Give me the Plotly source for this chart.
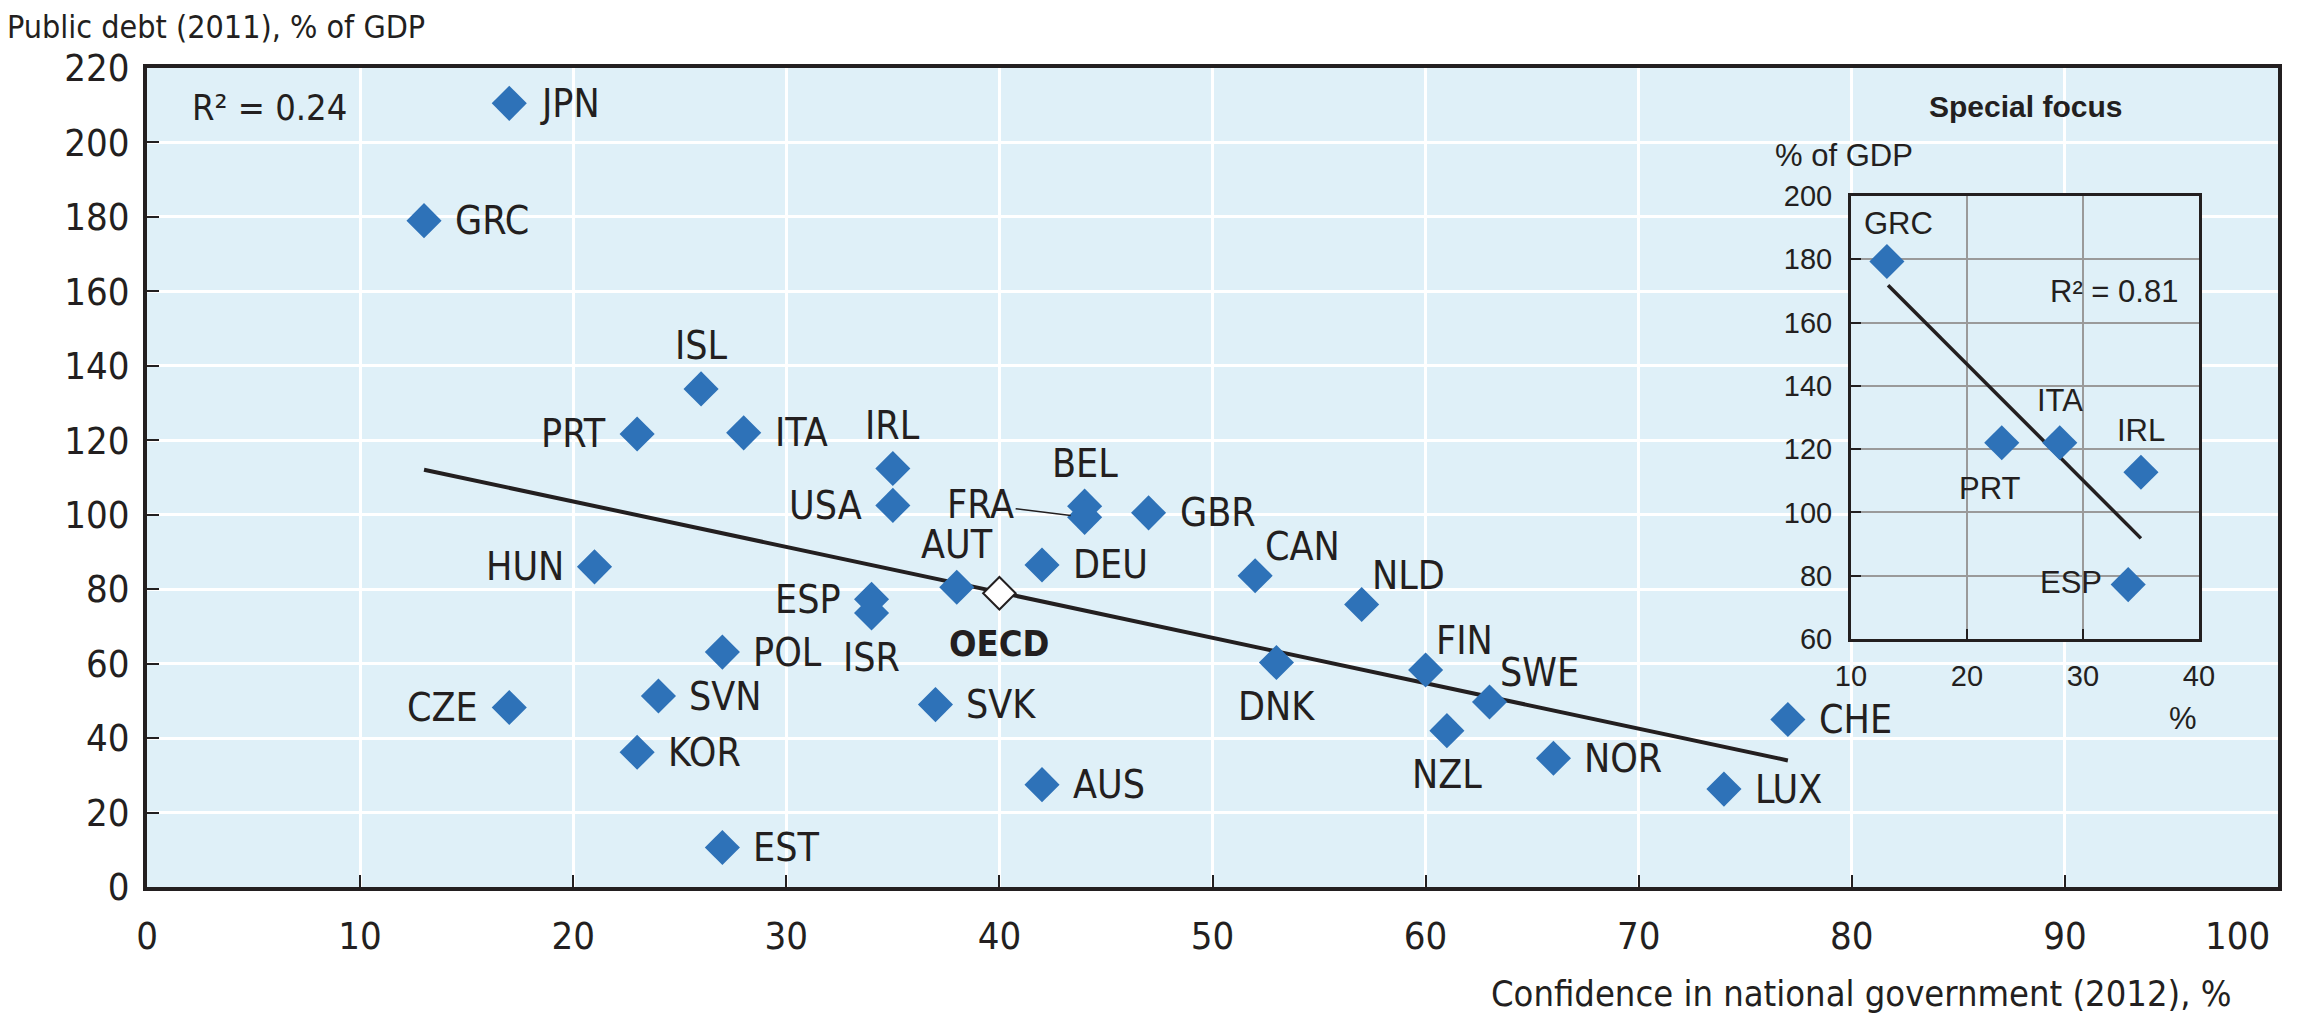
import plotly.graph_objects as go

# ---------------- data ----------------
countries = ["JPN", "GRC", "ISL", "PRT", "ITA", "IRL", "USA", "BEL", "FRA", "GBR",
             "HUN", "AUT", "ESP", "ISR", "DEU", "CAN", "NLD", "DNK", "FIN", "SWE",
             "NZL", "NOR", "LUX", "CHE", "POL", "SVN", "CZE", "KOR", "EST", "SVK", "AUS"]
confidence = [17, 13, 26, 23, 28, 35, 35, 44, 44, 47,
              21, 38, 34, 34, 42, 52, 57, 53, 60, 63,
              61, 66, 74, 77, 27, 24, 17, 23, 27, 37, 42]
debt = [210.5, 179, 133.8, 121.7, 122, 112.4, 102.5, 102.3, 99.3, 100.5,
        86, 80.5, 77.3, 73.6, 86.5, 83.6, 75.9, 60.3, 58.3, 49.7,
        42, 34.6, 26.3, 45, 63.1, 51.3, 48.2, 36.2, 10.6, 49, 27.5]
label_pos = ["r", "r", "t", "l", "r", "t", "l", "t", "fra", "r",
             "l", "t", "l", "b", "r", "tr", "tr", "b", "tr", "tr",
             "b", "r", "r", "r", "r", "r", "l", "r", "r", "r", "r"]

oecd_name = ["OECD"]
oecd_conf = [40]
oecd_debt = [78.9]

trend_x = [13, 77]
trend_y = [112.1, 34.0]
r2_main = "R² = 0.24"

focus_countries = ["GRC", "PRT", "ITA", "IRL", "ESP"]
focus_conf = [13.1, 23, 28, 35, 33.9]
focus_debt = [179.3, 122, 122, 112.7, 77.2]
focus_label_pos = ["grc", "prt", "t", "t", "l"]
focus_trend_x = [13.2, 35]
focus_trend_y = [171.8, 91.8]
r2_focus = "R² = 0.81"

x_ticks = list(range(0, 101, 10))
x_tick_text = [str(v) for v in x_ticks]
y_ticks = list(range(0, 221, 20))
fx_ticks = [10, 20, 30, 40]
fy_ticks = list(range(60, 201, 20))

# ---------------- styles ----------------
BLUE = "#2E72B8"
DARK = "#231F20"
BG = "#DFF0F8"
NARROW = "Liberation Sans Narrow, Arial Narrow, DejaVu Sans Condensed, Liberation Sans, sans-serif"
REG = "Liberation Sans, Arial, Helvetica, sans-serif"

# the last x tick label is drawn left of its tick (inside the frame) as a separate text
last_x_label = x_tick_text[-1]
axis_x_text = x_tick_text[:-1] + [""]

fig = go.Figure()

fig.add_trace(go.Scatter(x=trend_x, y=trend_y, mode="lines",
                         line=dict(color=DARK, width=4), hoverinfo="skip",
                         showlegend=False, xaxis="x", yaxis="y"))
fig.add_trace(go.Scatter(x=confidence, y=debt, mode="markers",
                         marker=dict(symbol="diamond", size=27, color=BLUE,
                                     line=dict(width=0)),
                         text=countries, showlegend=False, xaxis="x", yaxis="y"))
fig.add_trace(go.Scatter(x=oecd_conf, y=oecd_debt, mode="markers",
                         marker=dict(symbol="diamond", size=25, color="white",
                                     line=dict(width=2, color=DARK)),
                         text=oecd_name, showlegend=False, xaxis="x", yaxis="y"))

fig.add_trace(go.Scatter(x=focus_trend_x, y=focus_trend_y, mode="lines",
                         line=dict(color=DARK, width=3.5), hoverinfo="skip",
                         showlegend=False, xaxis="x2", yaxis="y2"))
fig.add_trace(go.Scatter(x=focus_conf, y=focus_debt, mode="markers",
                         marker=dict(symbol="diamond", size=27, color=BLUE,
                                     line=dict(width=0)),
                         text=focus_countries, showlegend=False, xaxis="x2", yaxis="y2"))

annotations = []
lab_font = dict(family=NARROW, size=39, color=DARK)
title_font = dict(family=NARROW, size=32, color=DARK)
xt_font = dict(family=NARROW, size=36, color=DARK)
tick_font = dict(family=NARROW, size=38, color=DARK)
pos_map = {
    "r": dict(xanchor="left", yanchor="middle", xshift=29, yshift=0),
    "l": dict(xanchor="right", yanchor="middle", xshift=-29, yshift=0),
    "t": dict(xanchor="center", yanchor="middle", xshift=0, yshift=43),
    "b": dict(xanchor="center", yanchor="middle", xshift=0, yshift=-44),
    "tr": dict(xanchor="left", yanchor="middle", xshift=8, yshift=29),
}
for name, xv, yv, p in zip(countries, confidence, debt, label_pos):
    if p == "fra":
        annotations.append(dict(x=xv, y=yv, xref="x", yref="y", text=name,
                                showarrow=True, arrowhead=0, arrowwidth=1.5,
                                arrowcolor=DARK, ax=-104, ay=-13, standoff=14,
                                font=lab_font))
    else:
        annotations.append(dict(x=xv, y=yv, xref="x", yref="y", text=name,
                                showarrow=False, font=lab_font, **pos_map[p]))
annotations.append(dict(x=oecd_conf[0], y=oecd_debt[0], xref="x", yref="y",
                        text="<b>" + oecd_name[0] + "</b>", showarrow=False,
                        xanchor="center", yanchor="middle", yshift=-50,
                        font=dict(family=NARROW, size=36, color=DARK)))

fpos_map = {
    "grc": dict(xanchor="center", yanchor="middle", xshift=12, yshift=38),
    "prt": dict(xanchor="center", yanchor="middle", xshift=-12, yshift=-46),
    "t": dict(xanchor="center", yanchor="middle", xshift=0, yshift=42),
    "l": dict(xanchor="right", yanchor="middle", xshift=-24, yshift=2),
}
in_font = dict(family=REG, size=31, color=DARK)
for name, xv, yv, p in zip(focus_countries, focus_conf, focus_debt, focus_label_pos):
    annotations.append(dict(x=xv, y=yv, xref="x2", yref="y2", text=name,
                            showarrow=False, font=in_font, **fpos_map[p]))

annotations += [
    dict(x=-0.0666, y=1.050, xref="paper", yref="paper", text="Public debt (2011), % of GDP",
         showarrow=False, xanchor="left", yanchor="middle", font=title_font),
    dict(x=0.9789, y=-0.1306, xref="paper", yref="paper",
         text="Confidence in national government (2012), %",
         showarrow=False, xanchor="right", yanchor="middle", font=xt_font),
    dict(x=0.997, y=-0.0598, xref="paper", yref="paper", text=last_x_label,
         showarrow=False, xanchor="right", yanchor="middle", font=tick_font),
    dict(x=2.0, y=209.5, xref="x", yref="y", text=r2_main, showarrow=False,
         xanchor="left", yanchor="middle", font=xt_font),
    dict(x=0.8813, y=0.9524, xref="paper", yref="paper", text="<b>Special focus</b>",
         showarrow=False, xanchor="center", yanchor="middle",
         font=dict(family=REG, size=30, color=DARK)),
    dict(x=0.763, y=0.8926, xref="paper", yref="paper", text="% of GDP",
         showarrow=False, xanchor="left", yanchor="middle", font=in_font),
    dict(x=27, y=169.7, xref="x2", yref="y2", text=r2_focus, showarrow=False,
         xanchor="left", yanchor="middle", font=in_font),
    dict(x=0.9554, y=0.2063, xref="paper", yref="paper", text="%",
         showarrow=False, xanchor="center", yanchor="middle", font=in_font),
]

shapes = [dict(type="rect", xref="x2 domain", yref="y2 domain", x0=0, x1=1, y0=0, y1=1,
               fillcolor="white", line=dict(width=0), layer="below")]

main_axis = dict(showgrid=True, gridcolor="white", gridwidth=2.5, zeroline=False,
                 ticks="inside", ticklen=12, tickwidth=2, tickcolor=DARK,
                 showline=True, linecolor=DARK, linewidth=4, mirror=True,
                 tickfont=tick_font)
inset_axis = dict(showgrid=True, gridcolor="#9A9A9A", gridwidth=1.5, zeroline=False,
                  ticks="inside", ticklen=10, tickwidth=2, tickcolor=DARK,
                  showline=True, linecolor=DARK, linewidth=3, mirror=True,
                  tickfont=dict(family=REG, size=29, color=DARK))

fig.update_layout(
    width=2303, height=1018,
    margin=dict(l=147, r=25, t=68, b=131),
    paper_bgcolor="white", plot_bgcolor=BG,
    showlegend=False,
    xaxis=dict(domain=[0, 1], range=[0, 100], tickvals=x_ticks, ticktext=axis_x_text,
               anchor="y", ticklabelstandoff=12, automargin=False, **main_axis),
    yaxis=dict(domain=[0, 1], range=[0, 220], tickvals=y_ticks, anchor="x",
               ticklabelstandoff=6, automargin=False, **main_axis),
    xaxis2=dict(domain=[0.7996, 0.9629], range=[10, 40], tickvals=fx_ticks, anchor="y2",
                ticklabelstandoff=9, automargin=False, **inset_axis),
    yaxis2=dict(domain=[0.3028, 0.8437], range=[60, 200], tickvals=fy_ticks, anchor="x2",
                ticklabelstandoff=10, automargin=False, **inset_axis),
    annotations=annotations,
    shapes=shapes,
)

fig.write_html("out.html", config={"displayModeBar": False},
               post_script="document.body.style.margin='0';")
